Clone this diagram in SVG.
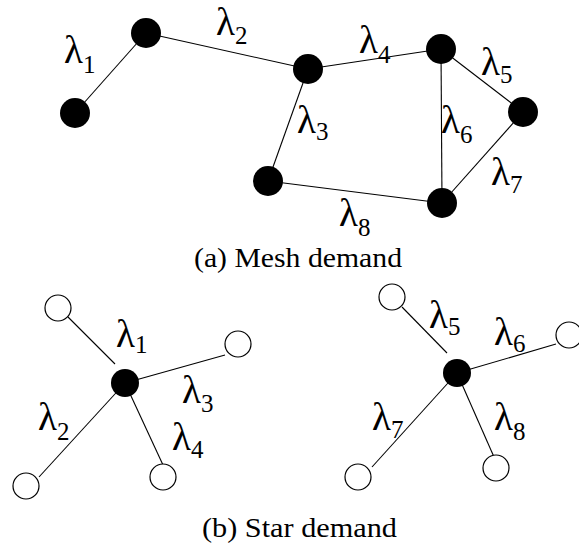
<svg xmlns="http://www.w3.org/2000/svg" width="579" height="544" viewBox="0 0 579 544">
<style>
.e{stroke:#000;stroke-width:1.1;fill:none}
.b{fill:#000}
.w{fill:#fff;stroke:#000;stroke-width:1.2}
.l{font-family:"Liberation Serif","Times New Roman",serif;font-size:39px;fill:#000}
.s{font-size:25px}
.c{font-family:"Liberation Serif","Times New Roman",serif;font-size:28px;fill:#000}
</style>
<rect width="579" height="544" fill="#fff"/>
<g id="connectors">
<line class="e" x1="146" y1="33" x2="75" y2="113"/>
<line class="e" x1="146" y1="33" x2="308" y2="69"/>
<line class="e" x1="308" y1="69" x2="268" y2="181"/>
<line class="e" x1="308" y1="69" x2="441" y2="49"/>
<line class="e" x1="441" y1="49" x2="523" y2="112"/>
<line class="e" x1="441" y1="49" x2="442" y2="203"/>
<line class="e" x1="523" y1="112" x2="442" y2="203"/>
<line class="e" x1="268" y1="181" x2="442" y2="203"/>
<line class="e" x1="68" y1="317" x2="115" y2="364"/>
<line class="e" x1="125" y1="383" x2="225" y2="355"/>
<line class="e" x1="39" y1="477" x2="125" y2="383"/>
<line class="e" x1="125" y1="383" x2="163" y2="465"/>
<line class="e" x1="402" y1="307" x2="447" y2="353"/>
<line class="e" x1="457" y1="373" x2="556" y2="344"/>
<line class="e" x1="372" y1="467" x2="457" y2="373"/>
<line class="e" x1="457" y1="373" x2="494" y2="457"/>
</g>
<g id="m1"><circle class="b" cx="146" cy="33" r="15"/></g>
<g id="m2"><circle class="b" cx="75" cy="113" r="15"/></g>
<g id="m3"><circle class="b" cx="308" cy="69" r="15"/></g>
<g id="m4"><circle class="b" cx="441" cy="49" r="15"/></g>
<g id="m5"><circle class="b" cx="523" cy="112" r="15"/></g>
<g id="m6"><circle class="b" cx="442" cy="203" r="15"/></g>
<g id="m7"><circle class="b" cx="268" cy="181" r="15"/></g>
<g id="s1c"><circle class="b" cx="125" cy="383" r="14"/></g>
<g id="s1a"><circle class="w" cx="58" cy="308" r="13"/></g>
<g id="s1b"><circle class="w" cx="238" cy="344" r="13"/></g>
<g id="s1d"><circle class="w" cx="26" cy="486" r="13"/></g>
<g id="s1e"><circle class="w" cx="163" cy="477" r="13"/></g>
<g id="s2c"><circle class="b" cx="457" cy="373" r="14"/></g>
<g id="s2a"><circle class="w" cx="392" cy="297" r="13"/></g>
<g id="s2b"><circle class="w" cx="569" cy="335" r="13"/></g>
<g id="s2d"><circle class="w" cx="358" cy="477" r="13"/></g>
<g id="s2e"><circle class="w" cx="496" cy="468" r="13"/></g>
<g id="labels">
<text class="l" x="64" y="63">λ<tspan class="s" dy="10">1</tspan></text>
<text class="l" x="216" y="35">λ<tspan class="s" dy="9">2</tspan></text>
<text class="l" x="297" y="133">λ<tspan class="s" dy="7">3</tspan></text>
<text class="l" x="359" y="53">λ<tspan class="s" dy="10">4</tspan></text>
<text class="l" x="481" y="75">λ<tspan class="s" dy="8">5</tspan></text>
<text class="l" x="441" y="133">λ<tspan class="s" dy="10">6</tspan></text>
<text class="l" x="491" y="185">λ<tspan class="s" dy="8">7</tspan></text>
<text class="l" x="339" y="226">λ<tspan class="s" dy="10">8</tspan></text>
<text class="l" x="116" y="347">λ<tspan class="s" dy="6">1</tspan></text>
<text class="l" x="38" y="430">λ<tspan class="s" dy="10">2</tspan></text>
<text class="l" x="182" y="403">λ<tspan class="s" dy="9">3</tspan></text>
<text class="l" x="172" y="450">λ<tspan class="s" dy="8">4</tspan></text>
<text class="l" x="429" y="328">λ<tspan class="s" dy="7">5</tspan></text>
<text class="l" x="494" y="345">λ<tspan class="s" dy="7">6</tspan></text>
<text class="l" x="372" y="430">λ<tspan class="s" dy="8">7</tspan></text>
<text class="l" x="494" y="430">λ<tspan class="s" dy="10">8</tspan></text>
<text class="c" x="194" y="267" textLength="208" lengthAdjust="spacingAndGlyphs">(a) Mesh demand</text>
<text class="c" x="202" y="537" textLength="195" lengthAdjust="spacingAndGlyphs">(b) Star demand</text>
</g>
</svg>
